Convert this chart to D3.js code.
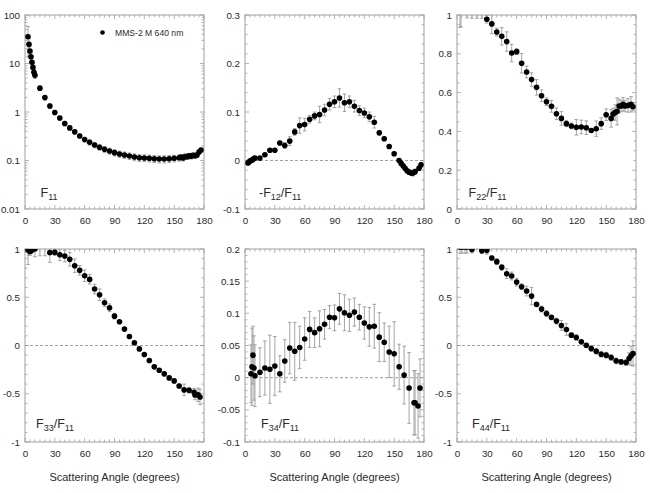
<!DOCTYPE html>
<html><head><meta charset="utf-8">
<script src="https://cdn.jsdelivr.net/npm/d3@7"></script>
<style>
body{margin:0;background:#fff;}
svg text{font-family:"Liberation Sans",Arial,Helvetica,sans-serif;}
</style>
</head><body>
<svg id="chart" width="650" height="493"></svg>
<script>
// ---------------- data ----------------
const xTicks = [0, 30, 60, 90, 120, 150, 180];
const legendLabel = "MMS-2 M 640 nm";
const xTitle = "Scattering Angle (degrees)";

// F11 (log scale)
const f11Ticks = [0.01, 0.1, 1, 10, 100];
const f11Angle = [3,4,5,6,7,8,9,10,15,20,25,30,35,40,45,50,55,60,65,70,75,80,85,90,95,100,105,110,115,120,125,130,135,140,145,150,155,157,159,161,163,165,167,169,171,173,175,177];
const f11Value = [35.7,24.8,18,13.8,10.6,8.3,6.6,5.7,3.1,1.98,1.33,0.98,0.75,0.58,0.47,0.39,0.32,0.27,0.237,0.209,0.187,0.17,0.157,0.145,0.136,0.13,0.124,0.118,0.114,0.113,0.111,0.109,0.107,0.107,0.109,0.111,0.114,0.118,0.113,0.121,0.12,0.125,0.122,0.128,0.126,0.13,0.15,0.165];
const f11Error = [22,8,5,3,2.5,1.5,1,0.8,0.3,0.2,0.15,0.1,0.07,0.06,0.05,0.04,0.035,0.03,0.03,0.027,0.025,0.023,0.022,0.021,0.02,0.02,0.019,0.019,0.018,0.018,0.018,0.018,0.018,0.018,0.018,0.017,0.017,0.015,0.015,0.015,0.015,0.015,0.015,0.015,0.015,0.015,0.015,0.015];

// -F12/F11
const f12Ticks = [-0.1, 0, 0.1, 0.2, 0.3];
const f12Angle = [3,4,5,6,7,8,9,10,15,20,25,30,35,40,45,50,55,60,65,70,75,80,85,90,95,100,105,110,115,120,125,130,135,140,145,150,155,157,159,161,163,165,167,169,171,175,177];
const f12Value = [-0.005,-0.003,-0.001,0,0.001,0.002,0.004,0.005,0.005,0.012,0.021,0.021,0.036,0.031,0.04,0.059,0.072,0.074,0.085,0.092,0.095,0.104,0.116,0.121,0.129,0.119,0.121,0.112,0.103,0.098,0.09,0.079,0.057,0.045,0.029,0.014,0,-0.006,-0.011,-0.016,-0.021,-0.024,-0.026,-0.026,-0.023,-0.016,-0.009];
const f12Error = [0.003,0.003,0.003,0.003,0.003,0.003,0.003,0.003,0.002,0.003,0.003,0.003,0.004,0.006,0.009,0.007,0.016,0.013,0.008,0.008,0.017,0.012,0.012,0.012,0.019,0.018,0.012,0.012,0.01,0.01,0.01,0.012,0.004,0.004,0.004,0.004,0.004,0.004,0.004,0.004,0.004,0.004,0.005,0.006,0.005,0.005,0.005];

// F22/F11
const f22Ticks = [0, 0.2, 0.4, 0.6, 0.8, 1];
const f22Angle = [3,4,10,15,20,25,30,35,40,45,50,55,60,65,70,75,80,85,90,95,100,105,110,115,120,125,130,135,140,145,150,155,157,159,161,163,165,167,169,172,175,177];
const f22Value = [1.03,1.03,1.02,1.02,1.02,1.02,0.978,0.954,0.912,0.89,0.863,0.804,0.811,0.751,0.706,0.667,0.627,0.584,0.553,0.529,0.491,0.467,0.44,0.428,0.421,0.423,0.419,0.405,0.414,0.44,0.486,0.467,0.49,0.497,0.503,0.531,0.531,0.54,0.531,0.534,0.54,0.527];
const f22Error = [0.094,0.09,0.035,0.037,0.037,0.037,0.02,0.05,0.02,0.045,0.05,0.045,0.015,0.05,0.03,0.035,0.04,0.03,0.02,0.03,0.03,0.035,0.015,0.015,0.04,0.035,0.035,0.01,0.04,0.03,0.03,0.045,0.03,0.04,0.07,0.035,0.03,0.035,0.03,0.035,0.04,0.02];

// F33/F11
const f33Ticks = [-1, -0.5, 0, 0.5, 1];
const f33Angle = [3,4,5,6,7,8,10,15,20,25,30,35,40,45,50,55,60,65,70,75,80,85,90,95,100,105,110,115,120,125,130,135,140,145,150,155,160,165,170,171,174,176];
const f33Value = [0.99,0.985,0.975,0.985,0.99,1.0,1.0,1.03,1.03,0.962,0.965,0.941,0.927,0.893,0.827,0.779,0.723,0.685,0.585,0.526,0.443,0.391,0.304,0.246,0.17,0.093,0.028,-0.035,-0.093,-0.156,-0.221,-0.256,-0.294,-0.336,-0.367,-0.419,-0.46,-0.464,-0.484,-0.512,-0.512,-0.533];
const f33Error = [0.15,0.05,0.04,0.03,0.03,0.02,0.08,0.1,0.1,0.1,0.03,0.06,0.06,0.07,0.07,0.05,0.06,0.05,0.05,0.06,0.04,0.04,0.03,0.01,0.01,0.01,0.01,0.01,0.01,0.01,0.015,0.015,0.02,0.02,0.02,0.02,0.06,0.03,0.04,0.05,0.07,0.08];

// F34/F11
const f34Ticks = [-0.1, -0.05, 0, 0.05, 0.1, 0.15, 0.2];
const f34Angle = [6,7,8,9,10,15,20,25,30,35,40,45,50,55,60,65,70,75,80,85,90,95,100,105,110,115,120,125,130,135,140,145,150,155,160,165,170,171,174,176];
const f34Value = [0.006,0.017,0.035,0.015,0.003,0.0085,0.015,0.013,0.018,0.006,0.026,0.046,0.041,0.047,0.06,0.075,0.07,0.076,0.083,0.094,0.093,0.107,0.101,0.097,0.102,0.094,0.085,0.079,0.08,0.063,0.055,0.04,0.037,0.017,0.004,-0.016,-0.039,-0.039,-0.044,-0.016];
const f34Error = [0.045,0.06,0.045,0.05,0.048,0.038,0.042,0.053,0.046,0.028,0.033,0.04,0.045,0.033,0.033,0.028,0.023,0.028,0.023,0.018,0.02,0.024,0.028,0.025,0.022,0.02,0.025,0.03,0.034,0.038,0.03,0.04,0.05,0.035,0.045,0.055,0.05,0.05,0.05,0.045];

// F44/F11
const f44Ticks = [-1, -0.5, 0, 0.5, 1];
const f44Angle = [3,5,8,10,15,25,30,35,40,45,50,55,60,65,70,75,80,85,90,95,100,105,110,115,120,125,130,135,140,145,150,155,160,165,170,173,175,177];
const f44Value = [1.02,1.02,1.02,1.02,0.995,0.983,0.986,0.907,0.869,0.81,0.744,0.72,0.657,0.609,0.564,0.512,0.426,0.377,0.332,0.291,0.253,0.208,0.166,0.107,0.083,0.038,0.003,-0.031,-0.059,-0.09,-0.1,-0.125,-0.159,-0.17,-0.176,-0.135,-0.107,-0.083];
const f44Error = [0.065,0.06,0.065,0.06,0.035,0.03,0.04,0.02,0.03,0.03,0.05,0.04,0.04,0.03,0.05,0.09,0.01,0.03,0.03,0.015,0.03,0.05,0.06,0.02,0.03,0.01,0.02,0.03,0.03,0.03,0.03,0.03,0.03,0.02,0.03,0.06,0.1,0.13];

// ---------------- layout ----------------
const svg = d3.select("#chart");
const frameColor = "#a0a0a0";
const textColor = "#2a2a2a";

const panels = [
  {left:25, top:15, w:179, h:194, log:true, domain:[0.01,100], ticks:f11Ticks, fmt:d=>String(d), lx:15.5, ly:12,
   angle:f11Angle, value:f11Value, error:f11Error, zero:false, label:[["F",""],["11","sub"]]},
  {left:245, top:15, w:179, h:194, domain:[-0.1,0.3], ticks:f12Ticks, fmt:d=>String(d), lx:14, ly:12,
   minorStep:0.02, angle:f12Angle, value:f12Value, error:f12Error, zero:true, label:[["-F",""],["12","sub"],["/F",""],["11","sub"]]},
  {left:457, top:15, w:179, h:194, domain:[0,1], ticks:f22Ticks, fmt:d=>String(d), lx:11.5, ly:12,
   minorStep:0.05, angle:f22Angle, value:f22Value, error:f22Error, zero:false, label:[["F",""],["22","sub"],["/F",""],["11","sub"]]},
  {left:25, top:249, w:179, h:193, domain:[-1,1], ticks:f33Ticks, fmt:d=>String(d), lx:11, ly:14,
   minorStep:0.1, angle:f33Angle, value:f33Value, error:f33Error, zero:true, label:[["F",""],["33","sub"],["/F",""],["11","sub"]], title:true},
  {left:245, top:249, w:179, h:193, domain:[-0.1,0.2], ticks:f34Ticks, fmt:d=>String(d), lx:16, ly:14,
   minorStep:0.01, angle:f34Angle, value:f34Value, error:f34Error, zero:true, label:[["F",""],["34","sub"],["/F",""],["11","sub"]], title:true},
  {left:457, top:249, w:179, h:193, domain:[-1,1], ticks:f44Ticks, fmt:d=>String(d), lx:15, ly:14,
   minorStep:0.1, angle:f44Angle, value:f44Value, error:f44Error, zero:true, label:[["F",""],["44","sub"],["/F",""],["11","sub"]], title:true}
];

panels.forEach((p, i) => {
  const g = svg.append("g").attr("transform", `translate(${p.left},${p.top})`);
  const x = d3.scaleLinear().domain([0,180]).range([0,p.w]);
  const y = (p.log ? d3.scaleLog() : d3.scaleLinear()).domain(p.domain).range([p.h,0]);

  const clipId = "clip" + i;
  g.append("clipPath").attr("id", clipId).append("rect")
    .attr("x",0).attr("y",0).attr("width",p.w).attr("height",p.h);

  // minor ticks
  const xMinor = d3.range(0,181,5);
  let yMinor;
  if (p.log) {
    yMinor = [];
    [0.01,0.1,1,10].forEach(dec => { for (let k=1;k<=9;k++) yMinor.push(dec*k); });
    yMinor.push(100);
  } else {
    const n = Math.round((p.domain[1]-p.domain[0])/p.minorStep);
    yMinor = d3.range(0,n+1).map(k => p.domain[0] + k*p.minorStep);
  }
  const tk = g.append("g").attr("stroke", frameColor).attr("stroke-width",0.8);
  xMinor.forEach(v => {
    const len = xTicks.includes(v) ? 4 : 2.5;
    tk.append("line").attr("x1",x(v)).attr("x2",x(v)).attr("y1",p.h).attr("y2",p.h-len);
    tk.append("line").attr("x1",x(v)).attr("x2",x(v)).attr("y1",0).attr("y2",len);
  });
  yMinor.forEach(v => {
    const major = p.ticks.some(t => Math.abs(t-v) < 1e-9);
    const len = major ? 4 : 2.5;
    tk.append("line").attr("y1",y(v)).attr("y2",y(v)).attr("x1",0).attr("x2",len);
    tk.append("line").attr("y1",y(v)).attr("y2",y(v)).attr("x1",p.w).attr("x2",p.w-len);
  });

  // zero line
  if (p.zero) {
    g.append("line").attr("x1",0).attr("x2",p.w).attr("y1",y(0)).attr("y2",y(0))
      .attr("stroke","#8a8a8a").attr("stroke-width",0.8).attr("stroke-dasharray","3,2");
  }

  // frame
  g.append("rect").attr("x",0).attr("y",0).attr("width",p.w).attr("height",p.h)
    .attr("fill","none").attr("stroke",frameColor).attr("stroke-width",1);

  // axes (labels only)
  const ax = g.append("g").attr("transform",`translate(0,${p.h})`)
    .call(d3.axisBottom(x).tickValues(xTicks).tickSizeInner(0).tickSizeOuter(0).tickPadding(8.5).tickFormat(d3.format("d")));
  const ay = g.append("g")
    .call(d3.axisLeft(y).tickValues(p.ticks).tickSizeInner(0).tickSizeOuter(0).tickPadding(5).tickFormat(p.fmt));
  [ax, ay].forEach(a => {
    a.select(".domain").remove();
    a.selectAll(".tick line").remove();
    a.selectAll("text").attr("font-size", 9.8).attr("fill", textColor)
      .style("font-family", '"Liberation Sans",Arial,sans-serif');
  });

  // data
  const data = p.angle.map((a, j) => ({a, v:p.value[j], e:p.error[j]}));
  const plot = g.append("g").attr("clip-path", `url(#${clipId})`);
  const eb = plot.append("g").attr("stroke","#9a9a9a").attr("stroke-width",0.9).attr("fill","none");
  data.forEach(d => {
    const lo = p.log ? Math.max(d.v - d.e, 1e-4) : d.v - d.e;
    const hi = d.v + d.e;
    const cx = x(d.a), y1 = y(lo), y2 = y(hi);
    if (Math.abs(y1 - y2) < 1) return;
    eb.append("line").attr("x1",cx).attr("x2",cx).attr("y1",y1).attr("y2",y2);
    eb.append("line").attr("x1",cx-1.8).attr("x2",cx+1.8).attr("y1",y1).attr("y2",y1);
    eb.append("line").attr("x1",cx-1.8).attr("x2",cx+1.8).attr("y1",y2).attr("y2",y2);
  });
  plot.append("g").selectAll("circle").data(data).join("circle")
    .attr("cx", d => x(d.a)).attr("cy", d => y(d.v)).attr("r", 2.8).attr("fill","#000");

  // panel label
  const lbl = g.append("text").attr("x", p.lx).attr("y", p.h - p.ly)
    .attr("fill", textColor).attr("font-size", 12.5);
  p.label.forEach(([t, kind], k) => {
    const ts = lbl.append("tspan").text(t);
    if (kind === "sub") ts.attr("font-size", 9).attr("dy", 3);
    else if (k > 0) ts.attr("dy", -3);
  });

  if (p.title) {
    g.append("text").attr("x", p.w/2).attr("y", p.h + 39).attr("text-anchor","middle")
      .attr("font-size", 11).attr("fill", textColor).text(xTitle);
  }

  if (i === 0) {
    g.append("circle").attr("cx", 77.5).attr("cy", 17.5).attr("r", 2.3).attr("fill","#000");
    g.append("text").attr("x", 90).attr("y", 20.5).attr("font-size", 8.6).attr("fill", textColor).text(legendLabel);
  }
});
</script>
</body></html>
